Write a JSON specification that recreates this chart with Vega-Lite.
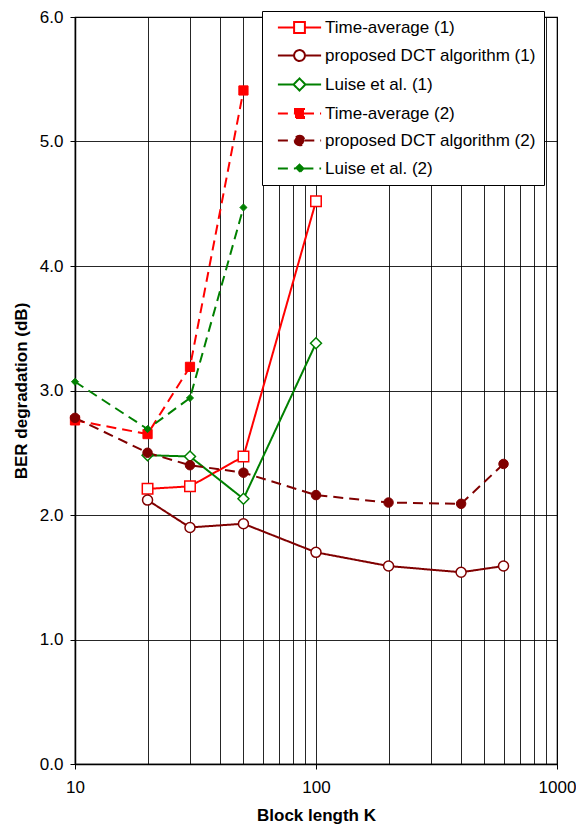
{
  "$schema": "https://vega.github.io/schema/vega-lite/v6.json",
  "width": 482,
  "height": 747,
  "autosize": {"type": "none"},
  "padding": {"left": 75, "top": 17, "right": 19, "bottom": 61},
  "background": "white",
  "config": {
    "font": "Liberation Sans",
    "view": {"stroke": "black", "strokeWidth": 1.2},
    "axis": {"labelFont": "Liberation Sans", "titleFont": "Liberation Sans"},
    "legend": {
      "orient": "none", "legendX": 187, "legendY": -6,
      "padding": 8,
      "strokeColor": "black", "fillColor": "white",
      "labelFontSize": 17, "labelColor": "black", "labelFont": "Liberation Sans",
      "symbolSize": 144, "symbolStrokeWidth": 2,
      "symbolOffset": 21, "labelOffset": 17, "rowPadding": 9,
      "labelLimit": 400
    }
  },
  "data": {
    "values": [
      {"series": "Time-average (1)", "K": 20, "ber": 2.21},
      {"series": "Time-average (1)", "K": 30, "ber": 2.23},
      {"series": "Time-average (1)", "K": 50, "ber": 2.47},
      {"series": "Time-average (1)", "K": 100, "ber": 4.52},
      {"series": "proposed DCT algorithm (1)", "K": 20, "ber": 2.12},
      {"series": "proposed DCT algorithm (1)", "K": 30, "ber": 1.9},
      {"series": "proposed DCT algorithm (1)", "K": 50, "ber": 1.93},
      {"series": "proposed DCT algorithm (1)", "K": 100, "ber": 1.7},
      {"series": "proposed DCT algorithm (1)", "K": 200, "ber": 1.59},
      {"series": "proposed DCT algorithm (1)", "K": 400, "ber": 1.54},
      {"series": "proposed DCT algorithm (1)", "K": 600, "ber": 1.59},
      {"series": "Luise et al. (1)", "K": 20, "ber": 2.48},
      {"series": "Luise et al. (1)", "K": 30, "ber": 2.47},
      {"series": "Luise et al. (1)", "K": 50, "ber": 2.13},
      {"series": "Luise et al. (1)", "K": 100, "ber": 3.38},
      {"series": "Time-average (2)", "K": 10, "ber": 2.76},
      {"series": "Time-average (2)", "K": 20, "ber": 2.65},
      {"series": "Time-average (2)", "K": 30, "ber": 3.19},
      {"series": "Time-average (2)", "K": 50, "ber": 5.41},
      {"series": "proposed DCT algorithm (2)", "K": 10, "ber": 2.78},
      {"series": "proposed DCT algorithm (2)", "K": 20, "ber": 2.5},
      {"series": "proposed DCT algorithm (2)", "K": 30, "ber": 2.4},
      {"series": "proposed DCT algorithm (2)", "K": 50, "ber": 2.34},
      {"series": "proposed DCT algorithm (2)", "K": 100, "ber": 2.16},
      {"series": "proposed DCT algorithm (2)", "K": 200, "ber": 2.1},
      {"series": "proposed DCT algorithm (2)", "K": 400, "ber": 2.09},
      {"series": "proposed DCT algorithm (2)", "K": 600, "ber": 2.41},
      {"series": "Luise et al. (2)", "K": 10, "ber": 3.07},
      {"series": "Luise et al. (2)", "K": 20, "ber": 2.69},
      {"series": "Luise et al. (2)", "K": 30, "ber": 2.94},
      {"series": "Luise et al. (2)", "K": 50, "ber": 4.47}
    ]
  },
  "encoding": {
    "x": {
      "field": "K", "type": "quantitative",
      "scale": {"type": "log", "domain": [10, 1000], "nice": false},
      "axis": {
        "title": "Block length K",
        "titleFontSize": 17, "titleFontWeight": "bold", "titleColor": "black", "titlePadding": 12,
        "values": [10, 20, 30, 40, 50, 60, 70, 80, 90, 100, 200, 300, 400, 500, 600, 700, 800, 900, 1000],
        "labelExpr": "datum.value == 10 || datum.value == 100 || datum.value == 1000 ? format(datum.value, 'd') : ''",
        "labelFontSize": 17, "labelColor": "black", "labelPadding": 10, "labelFlush": false, "labelOverlap": false,
        "tickSize": 5, "tickColor": "black",
        "tickOpacity": {"condition": {"test": "datum.value == 10 || datum.value == 100 || datum.value == 1000", "value": 1}, "value": 0},
        "grid": true, "gridColor": "black", "gridOpacity": 0.85, "gridWidth": 1,
        "domainColor": "black", "domainWidth": 1.5
      }
    },
    "y": {
      "field": "ber", "type": "quantitative",
      "scale": {"domain": [0, 6], "nice": false},
      "axis": {
        "title": "BER degradation (dB)",
        "titleFontSize": 17, "titleFontWeight": "bold", "titleColor": "black", "titlePadding": 9,
        "values": [0, 1, 2, 3, 4, 5, 6], "format": ".1f",
        "labelFontSize": 17, "labelColor": "black", "labelPadding": 7,
        "tickSize": 5, "tickColor": "black",
        "grid": true, "gridColor": "black", "gridOpacity": 0.85, "gridWidth": 1,
        "domainColor": "black", "domainWidth": 1.5
      }
    }
  },
  "layer": [
    {
      "mark": {"type": "line", "strokeWidth": 2},
      "encoding": {
        "color": {
          "field": "series", "type": "nominal",
          "scale": {
            "domain": ["Time-average (1)", "proposed DCT algorithm (1)", "Luise et al. (1)", "Time-average (2)", "proposed DCT algorithm (2)", "Luise et al. (2)"],
            "range": ["#FF0000", "#800000", "#008000", "#FF0000", "#800000", "#008000"]
          },
          "legend": {"title": null}
        },
        "strokeDash": {
          "field": "series", "type": "nominal",
          "scale": {
            "domain": ["Time-average (1)", "proposed DCT algorithm (1)", "Luise et al. (1)", "Time-average (2)", "proposed DCT algorithm (2)", "Luise et al. (2)"],
            "range": [[1, 0], [1, 0], [1, 0], [10, 6], [10, 6], [10, 6]]
          },
          "legend": null
        }
      }
    },
    {
      "transform": [{"filter": "datum.series == 'Time-average (1)'"}],
      "mark": {"type": "point", "shape": "square", "size": 110, "fill": "white", "stroke": "#FF0000", "strokeWidth": 1.5, "opacity": 1, "fillOpacity": 1}
    },
    {
      "transform": [{"filter": "datum.series == 'proposed DCT algorithm (1)'"}],
      "mark": {"type": "point", "shape": "circle", "size": 100, "fill": "white", "stroke": "#800000", "strokeWidth": 1.5, "opacity": 1, "fillOpacity": 1}
    },
    {
      "transform": [{"filter": "datum.series == 'Luise et al. (1)'"}],
      "mark": {"type": "point", "shape": "diamond", "size": 120, "fill": "white", "stroke": "#008000", "strokeWidth": 1.5, "opacity": 1, "fillOpacity": 1}
    },
    {
      "transform": [{"filter": "datum.series == 'Time-average (2)'"}],
      "mark": {"type": "point", "shape": "square", "size": 85, "fill": "#FF0000", "stroke": "#FF0000", "strokeWidth": 1, "opacity": 1, "fillOpacity": 1}
    },
    {
      "transform": [{"filter": "datum.series == 'proposed DCT algorithm (2)'"}],
      "mark": {"type": "point", "shape": "circle", "size": 90, "fill": "#800000", "stroke": "#800000", "strokeWidth": 1, "opacity": 1, "fillOpacity": 1}
    },
    {
      "transform": [{"filter": "datum.series == 'Luise et al. (2)'"}],
      "mark": {"type": "point", "shape": "diamond", "size": 50, "fill": "#008000", "stroke": "#008000", "strokeWidth": 1, "opacity": 1, "fillOpacity": 1}
    },
    {
      "transform": [{"filter": "datum.K < 0"}],
      "mark": {"type": "point", "strokeWidth": 2, "opacity": 1, "fillOpacity": 1},
      "encoding": {
        "color": {"field": "series", "type": "nominal", "legend": {"title": null}},
        "fill": {
          "field": "series", "type": "nominal",
          "scale": {
            "domain": ["Time-average (1)", "proposed DCT algorithm (1)", "Luise et al. (1)", "Time-average (2)", "proposed DCT algorithm (2)", "Luise et al. (2)"],
            "range": ["white", "white", "white", "#FF0000", "#800000", "#008000"]
          },
          "legend": {"title": null}
        },
        "shape": {
          "field": "series", "type": "nominal",
          "scale": {
            "domain": ["Time-average (1)", "proposed DCT algorithm (1)", "Luise et al. (1)", "Time-average (2)", "proposed DCT algorithm (2)", "Luise et al. (2)"],
            "range": [
              "M-3.6,0H-0.9M0.9,0H3.6M-0.9,-0.9H0.9V0.9H-0.9Z",
              "M-3.6,0H-0.9M0.9,0H3.6M-0.9,0A0.9,0.9 0 1,0 0.9,0A0.9,0.9 0 1,0 -0.9,0Z",
              "M-3.6,0H-1M1,0H3.6M0,-1L1,0L0,1L-1,0Z",
              "M-3.6,0H-0.75M0.75,0H3.6M-0.75,-0.75H0.75V0.75H-0.75Z",
              "M-3.6,0H-0.8M0.8,0H3.6M-0.8,0A0.8,0.8 0 1,0 0.8,0A0.8,0.8 0 1,0 -0.8,0Z",
              "M-3.6,0H-0.65M0.65,0H3.6M0,-0.65L0.65,0L0,0.65L-0.65,0Z"
            ]
          },
          "legend": {"title": null}
        }
      }
    }
  ]
}
